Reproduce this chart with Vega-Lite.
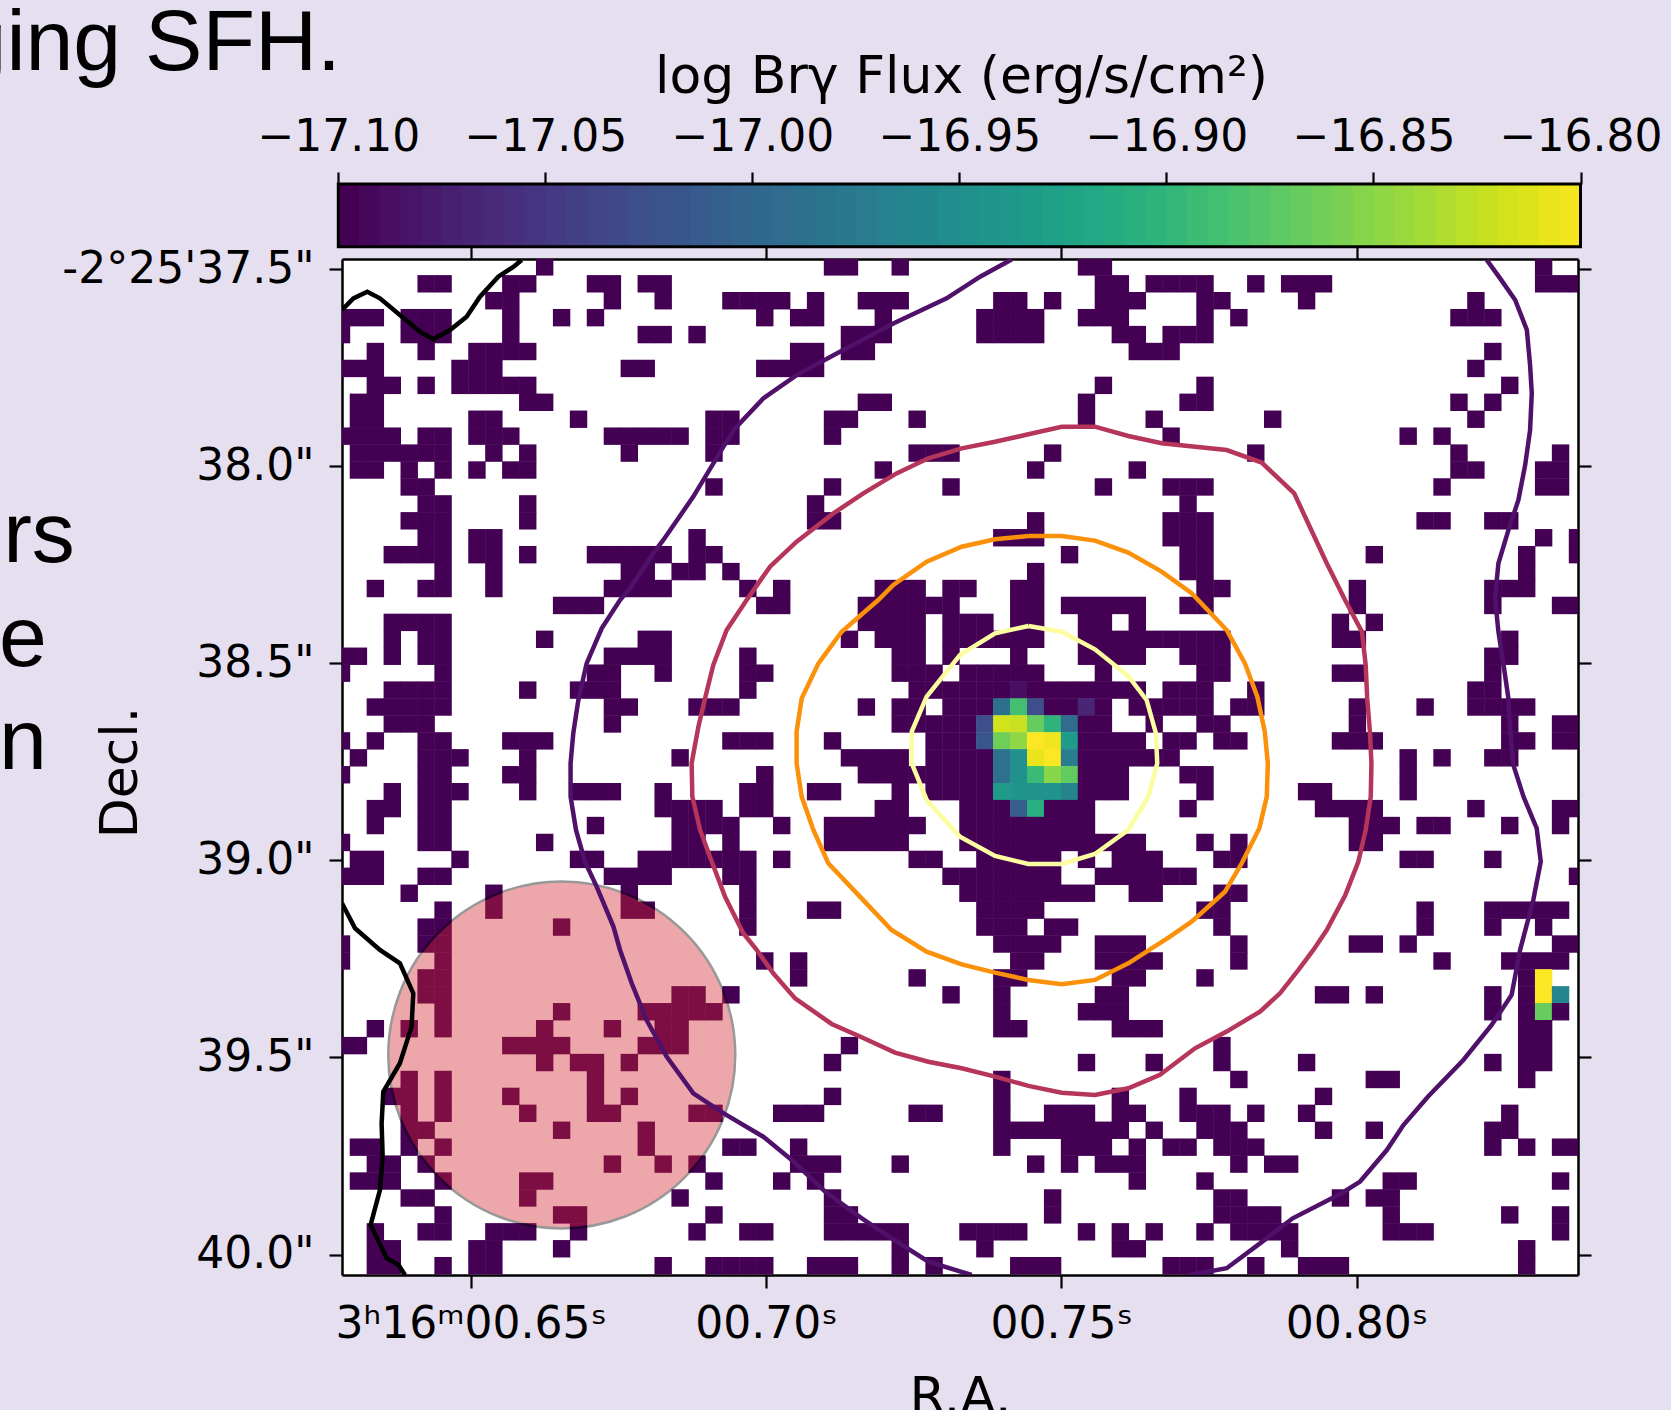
{"$schema":"https://vega.github.io/schema/vega-lite/v6.json","autosize":{"type":"none"},"padding":{"left":342,"top":259,"right":93,"bottom":135},"width":1236,"height":1016,"background":"#e5dfef","config":{"view":{"fill":"white","stroke":null},"axis":{"grid":false,"zindex":1,"labelFont":"DejaVu Sans","titleFont":"DejaVu Sans","labelFontSize":44,"titleFontSize":52,"titleFontWeight":"normal","labelColor":"black","titleColor":"black","tickColor":"black","domainColor":"black","tickWidth":2.2,"domainWidth":2.5,"tickSize":13,"labelFlush":false,"labelOverlap":false,"labelBound":false,"labelLimit":800,"titleLimit":1200}},"resolve":{"scale":{"x":"independent","y":"independent"},"axis":{"x":"independent","y":"independent"}},"layer":[
{"data":{"values":[{"a":-17.1,"b":-17.0945},{"a":-17.095,"b":-17.0895},{"a":-17.09,"b":-17.0845},{"a":-17.085,"b":-17.0795},{"a":-17.08,"b":-17.0745},{"a":-17.075,"b":-17.0695},{"a":-17.07,"b":-17.0645},{"a":-17.065,"b":-17.0595},{"a":-17.06,"b":-17.0545},{"a":-17.055,"b":-17.0495},{"a":-17.05,"b":-17.0445},{"a":-17.045,"b":-17.0395},{"a":-17.04,"b":-17.0345},{"a":-17.035,"b":-17.0295},{"a":-17.03,"b":-17.0245},{"a":-17.025,"b":-17.0195},{"a":-17.02,"b":-17.0145},{"a":-17.015,"b":-17.0095},{"a":-17.01,"b":-17.0045},{"a":-17.005,"b":-16.9995},{"a":-17.0,"b":-16.9945},{"a":-16.995,"b":-16.9895},{"a":-16.99,"b":-16.9845},{"a":-16.985,"b":-16.9795},{"a":-16.98,"b":-16.9745},{"a":-16.975,"b":-16.9695},{"a":-16.97,"b":-16.9645},{"a":-16.965,"b":-16.9595},{"a":-16.96,"b":-16.9545},{"a":-16.955,"b":-16.9495},{"a":-16.95,"b":-16.9445},{"a":-16.945,"b":-16.9395},{"a":-16.94,"b":-16.9345},{"a":-16.935,"b":-16.9295},{"a":-16.93,"b":-16.9245},{"a":-16.925,"b":-16.9195},{"a":-16.92,"b":-16.9145},{"a":-16.915,"b":-16.9095},{"a":-16.91,"b":-16.9045},{"a":-16.905,"b":-16.8995},{"a":-16.9,"b":-16.8945},{"a":-16.895,"b":-16.8895},{"a":-16.89,"b":-16.8845},{"a":-16.885,"b":-16.8795},{"a":-16.88,"b":-16.8745},{"a":-16.875,"b":-16.8695},{"a":-16.87,"b":-16.8645},{"a":-16.865,"b":-16.8595},{"a":-16.86,"b":-16.8545},{"a":-16.855,"b":-16.8495},{"a":-16.85,"b":-16.8445},{"a":-16.845,"b":-16.8395},{"a":-16.84,"b":-16.8345},{"a":-16.835,"b":-16.8295},{"a":-16.83,"b":-16.8245},{"a":-16.825,"b":-16.8195},{"a":-16.82,"b":-16.8145},{"a":-16.815,"b":-16.8095},{"a":-16.81,"b":-16.8045},{"a":-16.805,"b":-16.8}]},"mark":{"type":"rect","clip":false},"encoding":{"x":{"field":"a","type":"quantitative","scale":{"domain":[-17.1,-16.8],"range":[-3.7,1238.5],"nice":false,"zero":false},"axis":{"orient":"top","offset":75,"values":[-17.1,-17.05,-17.0,-16.95,-16.9,-16.85,-16.8],"domain":false,"tickSize":12,"labelPadding":22,"labelBaseline":"alphabetic","labelExpr":"'−'+format(abs(datum.value),'.2f')","title":"log Brγ Flux (erg/s/cm²)","titleY":-92,"titleBaseline":"alphabetic","titleX":619,"titleAlign":"center"}},"x2":{"field":"b"},"y":{"datum":-4.895,"type":"quantitative","scale":{"domain":[59.55,-0.465],"nice":false,"zero":false},"axis":null},"y2":{"datum":-1.19},"color":{"field":"a","type":"quantitative","scale":{"scheme":"viridis","domain":[-17.1,-16.8]},"legend":null}}},
{"data":{"values":[{}]},"mark":{"type":"rect","fill":null,"stroke":"black","strokeWidth":3,"clip":false},"encoding":{"x":{"datum":-17.1,"type":"quantitative","scale":{"domain":[-17.1,-16.8],"range":[-3.7,1238.5],"nice":false,"zero":false},"axis":null},"x2":{"datum":-16.8},"y":{"datum":-4.895,"type":"quantitative","scale":{"domain":[59.55,-0.465],"nice":false,"zero":false},"axis":null},"y2":{"datum":-1.19}}},
{"data":{"values":[
{"c":12,"r":0,"v":-17.1},{"c":29,"r":0,"v":-17.1},{"c":30,"r":0,"v":-17.1},{"c":33,"r":0,"v":-17.1},{"c":44,"r":0,"v":-17.1},{"c":45,"r":0,"v":-17.1},{"c":71,"r":0,"v":-17.1},
{"c":5,"r":1,"v":-17.1},{"c":6,"r":1,"v":-17.1},{"c":10,"r":1,"v":-17.1},{"c":11,"r":1,"v":-17.1},{"c":15,"r":1,"v":-17.1},{"c":16,"r":1,"v":-17.1},{"c":18,"r":1,"v":-17.1},{"c":19,"r":1,"v":-17.1},{"c":45,"r":1,"v":-17.1},{"c":46,"r":1,"v":-17.1},{"c":48,"r":1,"v":-17.1},{"c":49,"r":1,"v":-17.1},{"c":50,"r":1,"v":-17.1},{"c":51,"r":1,"v":-17.1},{"c":54,"r":1,"v":-17.1},{"c":56,"r":1,"v":-17.1},{"c":57,"r":1,"v":-17.1},{"c":58,"r":1,"v":-17.1},{"c":71,"r":1,"v":-17.1},{"c":72,"r":1,"v":-17.1},{"c":73,"r":1,"v":-17.1},
{"c":9,"r":2,"v":-17.1},{"c":10,"r":2,"v":-17.1},{"c":16,"r":2,"v":-17.1},{"c":19,"r":2,"v":-17.1},{"c":23,"r":2,"v":-17.1},{"c":24,"r":2,"v":-17.1},{"c":25,"r":2,"v":-17.1},{"c":26,"r":2,"v":-17.1},{"c":28,"r":2,"v":-17.1},{"c":31,"r":2,"v":-17.1},{"c":32,"r":2,"v":-17.1},{"c":33,"r":2,"v":-17.1},{"c":39,"r":2,"v":-17.1},{"c":40,"r":2,"v":-17.1},{"c":42,"r":2,"v":-17.1},{"c":45,"r":2,"v":-17.1},{"c":46,"r":2,"v":-17.1},{"c":47,"r":2,"v":-17.1},{"c":51,"r":2,"v":-17.1},{"c":52,"r":2,"v":-17.1},{"c":57,"r":2,"v":-17.1},{"c":67,"r":2,"v":-17.1},
{"c":0,"r":3,"v":-17.1},{"c":1,"r":3,"v":-17.1},{"c":2,"r":3,"v":-17.1},{"c":4,"r":3,"v":-17.1},{"c":5,"r":3,"v":-17.1},{"c":6,"r":3,"v":-17.1},{"c":10,"r":3,"v":-17.1},{"c":13,"r":3,"v":-17.1},{"c":15,"r":3,"v":-17.1},{"c":25,"r":3,"v":-17.1},{"c":27,"r":3,"v":-17.1},{"c":28,"r":3,"v":-17.1},{"c":32,"r":3,"v":-17.1},{"c":38,"r":3,"v":-17.1},{"c":39,"r":3,"v":-17.1},{"c":40,"r":3,"v":-17.1},{"c":41,"r":3,"v":-17.1},{"c":44,"r":3,"v":-17.1},{"c":45,"r":3,"v":-17.1},{"c":46,"r":3,"v":-17.1},{"c":51,"r":3,"v":-17.1},{"c":53,"r":3,"v":-17.1},{"c":66,"r":3,"v":-17.1},{"c":67,"r":3,"v":-17.1},{"c":68,"r":3,"v":-17.1},
{"c":0,"r":4,"v":-17.1},{"c":4,"r":4,"v":-17.1},{"c":5,"r":4,"v":-17.1},{"c":6,"r":4,"v":-17.1},{"c":10,"r":4,"v":-17.1},{"c":18,"r":4,"v":-17.1},{"c":19,"r":4,"v":-17.1},{"c":21,"r":4,"v":-17.1},{"c":30,"r":4,"v":-17.1},{"c":31,"r":4,"v":-17.1},{"c":32,"r":4,"v":-17.1},{"c":38,"r":4,"v":-17.1},{"c":39,"r":4,"v":-17.1},{"c":40,"r":4,"v":-17.1},{"c":41,"r":4,"v":-17.1},{"c":46,"r":4,"v":-17.1},{"c":47,"r":4,"v":-17.1},{"c":49,"r":4,"v":-17.1},{"c":50,"r":4,"v":-17.1},{"c":51,"r":4,"v":-17.1},
{"c":2,"r":5,"v":-17.1},{"c":5,"r":5,"v":-17.1},{"c":8,"r":5,"v":-17.1},{"c":9,"r":5,"v":-17.1},{"c":10,"r":5,"v":-17.1},{"c":11,"r":5,"v":-17.1},{"c":27,"r":5,"v":-17.1},{"c":28,"r":5,"v":-17.1},{"c":30,"r":5,"v":-17.1},{"c":31,"r":5,"v":-17.1},{"c":47,"r":5,"v":-17.1},{"c":48,"r":5,"v":-17.1},{"c":49,"r":5,"v":-17.1},{"c":68,"r":5,"v":-17.1},
{"c":0,"r":6,"v":-17.1},{"c":1,"r":6,"v":-17.1},{"c":2,"r":6,"v":-17.1},{"c":7,"r":6,"v":-17.1},{"c":8,"r":6,"v":-17.1},{"c":9,"r":6,"v":-17.1},{"c":17,"r":6,"v":-17.1},{"c":18,"r":6,"v":-17.1},{"c":25,"r":6,"v":-17.1},{"c":26,"r":6,"v":-17.1},{"c":27,"r":6,"v":-17.1},{"c":28,"r":6,"v":-17.1},{"c":67,"r":6,"v":-17.1},
{"c":2,"r":7,"v":-17.1},{"c":3,"r":7,"v":-17.1},{"c":5,"r":7,"v":-17.1},{"c":7,"r":7,"v":-17.1},{"c":8,"r":7,"v":-17.1},{"c":9,"r":7,"v":-17.1},{"c":10,"r":7,"v":-17.1},{"c":11,"r":7,"v":-17.1},{"c":45,"r":7,"v":-17.1},{"c":51,"r":7,"v":-17.1},{"c":69,"r":7,"v":-17.1},
{"c":1,"r":8,"v":-17.1},{"c":2,"r":8,"v":-17.1},{"c":11,"r":8,"v":-17.1},{"c":12,"r":8,"v":-17.1},{"c":31,"r":8,"v":-17.1},{"c":32,"r":8,"v":-17.1},{"c":44,"r":8,"v":-17.1},{"c":50,"r":8,"v":-17.1},{"c":51,"r":8,"v":-17.1},{"c":66,"r":8,"v":-17.1},{"c":68,"r":8,"v":-17.1},
{"c":1,"r":9,"v":-17.1},{"c":2,"r":9,"v":-17.1},{"c":8,"r":9,"v":-17.1},{"c":9,"r":9,"v":-17.1},{"c":14,"r":9,"v":-17.1},{"c":22,"r":9,"v":-17.1},{"c":23,"r":9,"v":-17.1},{"c":29,"r":9,"v":-17.1},{"c":30,"r":9,"v":-17.1},{"c":34,"r":9,"v":-17.1},{"c":44,"r":9,"v":-17.1},{"c":48,"r":9,"v":-17.1},{"c":55,"r":9,"v":-17.1},{"c":67,"r":9,"v":-17.1},
{"c":0,"r":10,"v":-17.1},{"c":1,"r":10,"v":-17.1},{"c":2,"r":10,"v":-17.1},{"c":3,"r":10,"v":-17.1},{"c":5,"r":10,"v":-17.1},{"c":6,"r":10,"v":-17.1},{"c":8,"r":10,"v":-17.1},{"c":9,"r":10,"v":-17.1},{"c":10,"r":10,"v":-17.1},{"c":16,"r":10,"v":-17.1},{"c":17,"r":10,"v":-17.1},{"c":18,"r":10,"v":-17.1},{"c":19,"r":10,"v":-17.1},{"c":20,"r":10,"v":-17.1},{"c":22,"r":10,"v":-17.1},{"c":23,"r":10,"v":-17.1},{"c":29,"r":10,"v":-17.1},{"c":49,"r":10,"v":-17.1},{"c":63,"r":10,"v":-17.1},{"c":65,"r":10,"v":-17.1},
{"c":1,"r":11,"v":-17.1},{"c":2,"r":11,"v":-17.1},{"c":3,"r":11,"v":-17.1},{"c":4,"r":11,"v":-17.1},{"c":5,"r":11,"v":-17.1},{"c":6,"r":11,"v":-17.1},{"c":9,"r":11,"v":-17.1},{"c":11,"r":11,"v":-17.1},{"c":17,"r":11,"v":-17.1},{"c":22,"r":11,"v":-17.1},{"c":34,"r":11,"v":-17.1},{"c":35,"r":11,"v":-17.1},{"c":36,"r":11,"v":-17.1},{"c":42,"r":11,"v":-17.1},{"c":54,"r":11,"v":-17.1},{"c":66,"r":11,"v":-17.1},{"c":72,"r":11,"v":-17.1},
{"c":1,"r":12,"v":-17.1},{"c":2,"r":12,"v":-17.1},{"c":4,"r":12,"v":-17.1},{"c":6,"r":12,"v":-17.1},{"c":8,"r":12,"v":-17.1},{"c":10,"r":12,"v":-17.1},{"c":11,"r":12,"v":-17.1},{"c":32,"r":12,"v":-17.1},{"c":41,"r":12,"v":-17.1},{"c":47,"r":12,"v":-17.1},{"c":66,"r":12,"v":-17.1},{"c":67,"r":12,"v":-17.1},{"c":71,"r":12,"v":-17.1},{"c":72,"r":12,"v":-17.1},
{"c":4,"r":13,"v":-17.1},{"c":5,"r":13,"v":-17.1},{"c":22,"r":13,"v":-17.1},{"c":29,"r":13,"v":-17.1},{"c":36,"r":13,"v":-17.1},{"c":45,"r":13,"v":-17.1},{"c":49,"r":13,"v":-17.1},{"c":50,"r":13,"v":-17.1},{"c":51,"r":13,"v":-17.1},{"c":65,"r":13,"v":-17.1},{"c":71,"r":13,"v":-17.1},{"c":72,"r":13,"v":-17.1},
{"c":5,"r":14,"v":-17.1},{"c":6,"r":14,"v":-17.1},{"c":11,"r":14,"v":-17.1},{"c":28,"r":14,"v":-17.1},{"c":50,"r":14,"v":-17.1},
{"c":4,"r":15,"v":-17.1},{"c":5,"r":15,"v":-17.1},{"c":6,"r":15,"v":-17.1},{"c":11,"r":15,"v":-17.1},{"c":28,"r":15,"v":-17.1},{"c":29,"r":15,"v":-17.1},{"c":41,"r":15,"v":-17.1},{"c":49,"r":15,"v":-17.1},{"c":50,"r":15,"v":-17.1},{"c":51,"r":15,"v":-17.1},{"c":64,"r":15,"v":-17.1},{"c":65,"r":15,"v":-17.1},{"c":68,"r":15,"v":-17.1},{"c":69,"r":15,"v":-17.1},
{"c":5,"r":16,"v":-17.1},{"c":6,"r":16,"v":-17.1},{"c":8,"r":16,"v":-17.1},{"c":9,"r":16,"v":-17.1},{"c":21,"r":16,"v":-17.1},{"c":39,"r":16,"v":-17.1},{"c":40,"r":16,"v":-17.1},{"c":41,"r":16,"v":-17.1},{"c":49,"r":16,"v":-17.1},{"c":50,"r":16,"v":-17.1},{"c":51,"r":16,"v":-17.1},{"c":71,"r":16,"v":-17.1},{"c":73,"r":16,"v":-17.1},
{"c":3,"r":17,"v":-17.1},{"c":4,"r":17,"v":-17.1},{"c":5,"r":17,"v":-17.1},{"c":6,"r":17,"v":-17.1},{"c":8,"r":17,"v":-17.1},{"c":9,"r":17,"v":-17.1},{"c":11,"r":17,"v":-17.1},{"c":15,"r":17,"v":-17.1},{"c":16,"r":17,"v":-17.1},{"c":17,"r":17,"v":-17.1},{"c":18,"r":17,"v":-17.1},{"c":19,"r":17,"v":-17.1},{"c":21,"r":17,"v":-17.1},{"c":22,"r":17,"v":-17.1},{"c":43,"r":17,"v":-17.1},{"c":50,"r":17,"v":-17.1},{"c":51,"r":17,"v":-17.1},{"c":61,"r":17,"v":-17.1},{"c":70,"r":17,"v":-17.1},{"c":73,"r":17,"v":-17.1},
{"c":6,"r":18,"v":-17.1},{"c":9,"r":18,"v":-17.1},{"c":17,"r":18,"v":-17.1},{"c":18,"r":18,"v":-17.1},{"c":20,"r":18,"v":-17.1},{"c":21,"r":18,"v":-17.1},{"c":23,"r":18,"v":-17.1},{"c":41,"r":18,"v":-17.1},{"c":50,"r":18,"v":-17.1},{"c":51,"r":18,"v":-17.1},{"c":70,"r":18,"v":-17.1},
{"c":2,"r":19,"v":-17.1},{"c":5,"r":19,"v":-17.1},{"c":6,"r":19,"v":-17.1},{"c":9,"r":19,"v":-17.1},{"c":16,"r":19,"v":-17.1},{"c":17,"r":19,"v":-17.1},{"c":18,"r":19,"v":-17.1},{"c":19,"r":19,"v":-17.1},{"c":24,"r":19,"v":-17.1},{"c":26,"r":19,"v":-17.1},{"c":32,"r":19,"v":-17.1},{"c":33,"r":19,"v":-17.1},{"c":34,"r":19,"v":-17.1},{"c":36,"r":19,"v":-17.1},{"c":37,"r":19,"v":-17.1},{"c":40,"r":19,"v":-17.1},{"c":41,"r":19,"v":-17.1},{"c":51,"r":19,"v":-17.1},{"c":52,"r":19,"v":-17.1},{"c":60,"r":19,"v":-17.1},{"c":68,"r":19,"v":-17.1},{"c":69,"r":19,"v":-17.1},{"c":70,"r":19,"v":-17.1},
{"c":13,"r":20,"v":-17.1},{"c":14,"r":20,"v":-17.1},{"c":15,"r":20,"v":-17.1},{"c":25,"r":20,"v":-17.1},{"c":26,"r":20,"v":-17.1},{"c":31,"r":20,"v":-17.1},{"c":32,"r":20,"v":-17.1},{"c":33,"r":20,"v":-17.1},{"c":34,"r":20,"v":-17.1},{"c":35,"r":20,"v":-17.1},{"c":36,"r":20,"v":-17.1},{"c":40,"r":20,"v":-17.1},{"c":41,"r":20,"v":-17.1},{"c":43,"r":20,"v":-17.1},{"c":44,"r":20,"v":-17.1},{"c":45,"r":20,"v":-17.1},{"c":46,"r":20,"v":-17.1},{"c":47,"r":20,"v":-17.1},{"c":50,"r":20,"v":-17.1},{"c":51,"r":20,"v":-17.1},{"c":60,"r":20,"v":-17.1},{"c":68,"r":20,"v":-17.1},{"c":72,"r":20,"v":-17.1},{"c":73,"r":20,"v":-17.1},
{"c":3,"r":21,"v":-17.1},{"c":4,"r":21,"v":-17.1},{"c":5,"r":21,"v":-17.1},{"c":6,"r":21,"v":-17.1},{"c":31,"r":21,"v":-17.1},{"c":32,"r":21,"v":-17.1},{"c":33,"r":21,"v":-17.1},{"c":34,"r":21,"v":-17.1},{"c":36,"r":21,"v":-17.1},{"c":37,"r":21,"v":-17.1},{"c":38,"r":21,"v":-17.1},{"c":40,"r":21,"v":-17.1},{"c":41,"r":21,"v":-17.1},{"c":44,"r":21,"v":-17.1},{"c":45,"r":21,"v":-17.1},{"c":47,"r":21,"v":-17.1},{"c":59,"r":21,"v":-17.1},{"c":61,"r":21,"v":-17.1},
{"c":3,"r":22,"v":-17.1},{"c":5,"r":22,"v":-17.1},{"c":6,"r":22,"v":-17.1},{"c":12,"r":22,"v":-17.1},{"c":18,"r":22,"v":-17.1},{"c":19,"r":22,"v":-17.1},{"c":30,"r":22,"v":-17.1},{"c":32,"r":22,"v":-17.1},{"c":33,"r":22,"v":-17.1},{"c":34,"r":22,"v":-17.1},{"c":36,"r":22,"v":-17.1},{"c":37,"r":22,"v":-17.1},{"c":38,"r":22,"v":-17.1},{"c":39,"r":22,"v":-17.1},{"c":40,"r":22,"v":-17.1},{"c":41,"r":22,"v":-17.1},{"c":44,"r":22,"v":-17.1},{"c":45,"r":22,"v":-17.1},{"c":46,"r":22,"v":-17.1},{"c":47,"r":22,"v":-17.1},{"c":48,"r":22,"v":-17.1},{"c":49,"r":22,"v":-17.1},{"c":50,"r":22,"v":-17.1},{"c":51,"r":22,"v":-17.1},{"c":52,"r":22,"v":-17.1},{"c":59,"r":22,"v":-17.1},{"c":60,"r":22,"v":-17.1},{"c":69,"r":22,"v":-17.1},
{"c":0,"r":23,"v":-17.1},{"c":1,"r":23,"v":-17.1},{"c":3,"r":23,"v":-17.1},{"c":5,"r":23,"v":-17.1},{"c":6,"r":23,"v":-17.1},{"c":16,"r":23,"v":-17.1},{"c":17,"r":23,"v":-17.1},{"c":18,"r":23,"v":-17.1},{"c":19,"r":23,"v":-17.1},{"c":24,"r":23,"v":-17.1},{"c":33,"r":23,"v":-17.1},{"c":34,"r":23,"v":-17.1},{"c":36,"r":23,"v":-17.1},{"c":40,"r":23,"v":-17.1},{"c":44,"r":23,"v":-17.1},{"c":45,"r":23,"v":-17.1},{"c":46,"r":23,"v":-17.1},{"c":47,"r":23,"v":-17.1},{"c":50,"r":23,"v":-17.1},{"c":51,"r":23,"v":-17.1},{"c":52,"r":23,"v":-17.1},{"c":68,"r":23,"v":-17.1},{"c":69,"r":23,"v":-17.1},
{"c":0,"r":24,"v":-17.1},{"c":6,"r":24,"v":-17.1},{"c":15,"r":24,"v":-17.1},{"c":16,"r":24,"v":-17.1},{"c":19,"r":24,"v":-17.1},{"c":24,"r":24,"v":-17.1},{"c":25,"r":24,"v":-17.1},{"c":33,"r":24,"v":-17.1},{"c":34,"r":24,"v":-17.1},{"c":35,"r":24,"v":-17.1},{"c":37,"r":24,"v":-17.1},{"c":38,"r":24,"v":-17.1},{"c":39,"r":24,"v":-17.1},{"c":40,"r":24,"v":-17.1},{"c":41,"r":24,"v":-17.1},{"c":45,"r":24,"v":-17.1},{"c":51,"r":24,"v":-17.1},{"c":52,"r":24,"v":-17.1},{"c":59,"r":24,"v":-17.1},{"c":60,"r":24,"v":-17.1},{"c":68,"r":24,"v":-17.1},
{"c":3,"r":25,"v":-17.1},{"c":4,"r":25,"v":-17.1},{"c":5,"r":25,"v":-17.1},{"c":6,"r":25,"v":-17.1},{"c":11,"r":25,"v":-17.1},{"c":14,"r":25,"v":-17.1},{"c":15,"r":25,"v":-17.1},{"c":16,"r":25,"v":-17.1},{"c":24,"r":25,"v":-17.1},{"c":34,"r":25,"v":-17.1},{"c":35,"r":25,"v":-17.1},{"c":36,"r":25,"v":-17.1},{"c":37,"r":25,"v":-17.1},{"c":38,"r":25,"v":-17.1},{"c":39,"r":25,"v":-17.1},{"c":40,"r":25,"v":-17.09},{"c":41,"r":25,"v":-17.1},{"c":42,"r":25,"v":-17.1},{"c":43,"r":25,"v":-17.1},{"c":44,"r":25,"v":-17.1},{"c":45,"r":25,"v":-17.1},{"c":46,"r":25,"v":-17.1},{"c":47,"r":25,"v":-17.1},{"c":49,"r":25,"v":-17.1},{"c":50,"r":25,"v":-17.1},{"c":51,"r":25,"v":-17.1},{"c":54,"r":25,"v":-17.1},{"c":67,"r":25,"v":-17.1},{"c":68,"r":25,"v":-17.1},
{"c":2,"r":26,"v":-17.1},{"c":3,"r":26,"v":-17.1},{"c":4,"r":26,"v":-17.1},{"c":5,"r":26,"v":-17.1},{"c":6,"r":26,"v":-17.1},{"c":16,"r":26,"v":-17.1},{"c":17,"r":26,"v":-17.1},{"c":21,"r":26,"v":-17.1},{"c":22,"r":26,"v":-17.1},{"c":23,"r":26,"v":-17.1},{"c":31,"r":26,"v":-17.1},{"c":33,"r":26,"v":-17.1},{"c":34,"r":26,"v":-17.1},{"c":36,"r":26,"v":-17.1},{"c":37,"r":26,"v":-17.1},{"c":38,"r":26,"v":-17.1},{"c":39,"r":26,"v":-16.99},{"c":40,"r":26,"v":-16.89},{"c":41,"r":26,"v":-17.03},{"c":42,"r":26,"v":-17.1},{"c":43,"r":26,"v":-17.1},{"c":44,"r":26,"v":-17.07},{"c":45,"r":26,"v":-17.1},{"c":47,"r":26,"v":-17.1},{"c":48,"r":26,"v":-17.1},{"c":49,"r":26,"v":-17.1},{"c":50,"r":26,"v":-17.1},{"c":51,"r":26,"v":-17.1},{"c":53,"r":26,"v":-17.1},{"c":54,"r":26,"v":-17.1},{"c":60,"r":26,"v":-17.1},{"c":64,"r":26,"v":-17.1},{"c":67,"r":26,"v":-17.1},{"c":68,"r":26,"v":-17.1},{"c":69,"r":26,"v":-17.1},{"c":70,"r":26,"v":-17.1},
{"c":3,"r":27,"v":-17.1},{"c":4,"r":27,"v":-17.1},{"c":5,"r":27,"v":-17.1},{"c":16,"r":27,"v":-17.1},{"c":33,"r":27,"v":-17.1},{"c":34,"r":27,"v":-17.1},{"c":35,"r":27,"v":-17.1},{"c":36,"r":27,"v":-17.1},{"c":37,"r":27,"v":-17.1},{"c":38,"r":27,"v":-17.03},{"c":39,"r":27,"v":-16.82},{"c":40,"r":27,"v":-16.824},{"c":41,"r":27,"v":-16.87},{"c":42,"r":27,"v":-16.905},{"c":43,"r":27,"v":-16.995},{"c":44,"r":27,"v":-17.1},{"c":45,"r":27,"v":-17.1},{"c":48,"r":27,"v":-17.1},{"c":51,"r":27,"v":-17.1},{"c":52,"r":27,"v":-17.1},{"c":60,"r":27,"v":-17.1},{"c":69,"r":27,"v":-17.1},{"c":72,"r":27,"v":-17.1},{"c":73,"r":27,"v":-17.1},
{"c":0,"r":28,"v":-17.1},{"c":2,"r":28,"v":-17.1},{"c":5,"r":28,"v":-17.1},{"c":6,"r":28,"v":-17.1},{"c":10,"r":28,"v":-17.1},{"c":11,"r":28,"v":-17.1},{"c":12,"r":28,"v":-17.1},{"c":23,"r":28,"v":-17.1},{"c":24,"r":28,"v":-17.1},{"c":25,"r":28,"v":-17.1},{"c":29,"r":28,"v":-17.1},{"c":35,"r":28,"v":-17.1},{"c":36,"r":28,"v":-17.1},{"c":37,"r":28,"v":-17.1},{"c":38,"r":28,"v":-17.02},{"c":39,"r":28,"v":-16.866},{"c":40,"r":28,"v":-16.85},{"c":41,"r":28,"v":-16.8},{"c":42,"r":28,"v":-16.806},{"c":43,"r":28,"v":-16.935},{"c":44,"r":28,"v":-17.1},{"c":45,"r":28,"v":-17.1},{"c":46,"r":28,"v":-17.1},{"c":47,"r":28,"v":-17.1},{"c":49,"r":28,"v":-17.1},{"c":50,"r":28,"v":-17.1},{"c":52,"r":28,"v":-17.1},{"c":53,"r":28,"v":-17.1},{"c":59,"r":28,"v":-17.1},{"c":60,"r":28,"v":-17.1},{"c":61,"r":28,"v":-17.1},{"c":69,"r":28,"v":-17.1},{"c":70,"r":28,"v":-17.1},{"c":72,"r":28,"v":-17.1},{"c":73,"r":28,"v":-17.1},
{"c":1,"r":29,"v":-17.1},{"c":5,"r":29,"v":-17.1},{"c":6,"r":29,"v":-17.1},{"c":7,"r":29,"v":-17.1},{"c":11,"r":29,"v":-17.1},{"c":20,"r":29,"v":-17.1},{"c":30,"r":29,"v":-17.1},{"c":31,"r":29,"v":-17.1},{"c":32,"r":29,"v":-17.1},{"c":33,"r":29,"v":-17.1},{"c":35,"r":29,"v":-17.1},{"c":36,"r":29,"v":-17.1},{"c":37,"r":29,"v":-17.1},{"c":38,"r":29,"v":-17.1},{"c":39,"r":29,"v":-16.989},{"c":40,"r":29,"v":-16.95},{"c":41,"r":29,"v":-16.81},{"c":42,"r":29,"v":-16.8},{"c":43,"r":29,"v":-16.974},{"c":44,"r":29,"v":-17.1},{"c":45,"r":29,"v":-17.1},{"c":46,"r":29,"v":-17.1},{"c":47,"r":29,"v":-17.1},{"c":48,"r":29,"v":-17.1},{"c":49,"r":29,"v":-17.1},{"c":63,"r":29,"v":-17.1},{"c":65,"r":29,"v":-17.1},{"c":68,"r":29,"v":-17.1},{"c":69,"r":29,"v":-17.1},
{"c":0,"r":30,"v":-17.1},{"c":5,"r":30,"v":-17.1},{"c":6,"r":30,"v":-17.1},{"c":10,"r":30,"v":-17.1},{"c":11,"r":30,"v":-17.1},{"c":25,"r":30,"v":-17.1},{"c":31,"r":30,"v":-17.1},{"c":32,"r":30,"v":-17.1},{"c":33,"r":30,"v":-17.1},{"c":34,"r":30,"v":-17.1},{"c":35,"r":30,"v":-17.1},{"c":36,"r":30,"v":-17.1},{"c":37,"r":30,"v":-17.1},{"c":38,"r":30,"v":-17.1},{"c":39,"r":30,"v":-16.989},{"c":40,"r":30,"v":-16.95},{"c":41,"r":30,"v":-16.896},{"c":42,"r":30,"v":-16.854},{"c":43,"r":30,"v":-16.872},{"c":44,"r":30,"v":-17.1},{"c":45,"r":30,"v":-17.1},{"c":46,"r":30,"v":-17.1},{"c":50,"r":30,"v":-17.1},{"c":51,"r":30,"v":-17.1},{"c":63,"r":30,"v":-17.1},
{"c":3,"r":31,"v":-17.1},{"c":5,"r":31,"v":-17.1},{"c":6,"r":31,"v":-17.1},{"c":7,"r":31,"v":-17.1},{"c":11,"r":31,"v":-17.1},{"c":14,"r":31,"v":-17.1},{"c":15,"r":31,"v":-17.1},{"c":16,"r":31,"v":-17.1},{"c":19,"r":31,"v":-17.1},{"c":24,"r":31,"v":-17.1},{"c":25,"r":31,"v":-17.1},{"c":28,"r":31,"v":-17.1},{"c":29,"r":31,"v":-17.1},{"c":33,"r":31,"v":-17.1},{"c":35,"r":31,"v":-17.1},{"c":36,"r":31,"v":-17.1},{"c":37,"r":31,"v":-17.1},{"c":38,"r":31,"v":-17.1},{"c":39,"r":31,"v":-16.935},{"c":40,"r":31,"v":-16.944},{"c":41,"r":31,"v":-16.946},{"c":42,"r":31,"v":-16.946},{"c":43,"r":31,"v":-16.965},{"c":44,"r":31,"v":-17.1},{"c":45,"r":31,"v":-17.1},{"c":46,"r":31,"v":-17.1},{"c":51,"r":31,"v":-17.1},{"c":57,"r":31,"v":-17.1},{"c":58,"r":31,"v":-17.1},{"c":63,"r":31,"v":-17.1},
{"c":2,"r":32,"v":-17.1},{"c":3,"r":32,"v":-17.1},{"c":5,"r":32,"v":-17.1},{"c":6,"r":32,"v":-17.1},{"c":19,"r":32,"v":-17.1},{"c":20,"r":32,"v":-17.1},{"c":21,"r":32,"v":-17.1},{"c":22,"r":32,"v":-17.1},{"c":24,"r":32,"v":-17.1},{"c":25,"r":32,"v":-17.1},{"c":32,"r":32,"v":-17.1},{"c":33,"r":32,"v":-17.1},{"c":37,"r":32,"v":-17.1},{"c":38,"r":32,"v":-17.1},{"c":39,"r":32,"v":-17.1},{"c":40,"r":32,"v":-17.013},{"c":41,"r":32,"v":-16.911},{"c":42,"r":32,"v":-17.1},{"c":43,"r":32,"v":-17.1},{"c":44,"r":32,"v":-17.1},{"c":50,"r":32,"v":-17.1},{"c":58,"r":32,"v":-17.1},{"c":59,"r":32,"v":-17.1},{"c":60,"r":32,"v":-17.1},{"c":61,"r":32,"v":-17.1},{"c":67,"r":32,"v":-17.1},{"c":72,"r":32,"v":-17.1},{"c":73,"r":32,"v":-17.1},
{"c":2,"r":33,"v":-17.1},{"c":5,"r":33,"v":-17.1},{"c":6,"r":33,"v":-17.1},{"c":15,"r":33,"v":-17.1},{"c":20,"r":33,"v":-17.1},{"c":21,"r":33,"v":-17.1},{"c":22,"r":33,"v":-17.1},{"c":23,"r":33,"v":-17.1},{"c":26,"r":33,"v":-17.1},{"c":29,"r":33,"v":-17.1},{"c":30,"r":33,"v":-17.1},{"c":31,"r":33,"v":-17.1},{"c":32,"r":33,"v":-17.1},{"c":33,"r":33,"v":-17.1},{"c":34,"r":33,"v":-17.1},{"c":37,"r":33,"v":-17.1},{"c":38,"r":33,"v":-17.1},{"c":39,"r":33,"v":-17.1},{"c":40,"r":33,"v":-17.1},{"c":41,"r":33,"v":-17.1},{"c":42,"r":33,"v":-17.1},{"c":43,"r":33,"v":-17.1},{"c":44,"r":33,"v":-17.1},{"c":60,"r":33,"v":-17.1},{"c":61,"r":33,"v":-17.1},{"c":62,"r":33,"v":-17.1},{"c":64,"r":33,"v":-17.1},{"c":65,"r":33,"v":-17.1},{"c":69,"r":33,"v":-17.1},{"c":72,"r":33,"v":-17.1},
{"c":0,"r":34,"v":-17.1},{"c":5,"r":34,"v":-17.1},{"c":6,"r":34,"v":-17.1},{"c":12,"r":34,"v":-17.1},{"c":20,"r":34,"v":-17.1},{"c":21,"r":34,"v":-17.1},{"c":23,"r":34,"v":-17.1},{"c":29,"r":34,"v":-17.1},{"c":30,"r":34,"v":-17.1},{"c":31,"r":34,"v":-17.1},{"c":32,"r":34,"v":-17.1},{"c":33,"r":34,"v":-17.1},{"c":37,"r":34,"v":-17.1},{"c":38,"r":34,"v":-17.1},{"c":39,"r":34,"v":-17.1},{"c":40,"r":34,"v":-17.1},{"c":41,"r":34,"v":-17.1},{"c":42,"r":34,"v":-17.1},{"c":43,"r":34,"v":-17.1},{"c":44,"r":34,"v":-17.1},{"c":45,"r":34,"v":-17.1},{"c":46,"r":34,"v":-17.1},{"c":47,"r":34,"v":-17.1},{"c":51,"r":34,"v":-17.1},{"c":53,"r":34,"v":-17.1},{"c":60,"r":34,"v":-17.1},{"c":61,"r":34,"v":-17.1},
{"c":1,"r":35,"v":-17.1},{"c":2,"r":35,"v":-17.1},{"c":7,"r":35,"v":-17.1},{"c":14,"r":35,"v":-17.1},{"c":15,"r":35,"v":-17.1},{"c":18,"r":35,"v":-17.1},{"c":19,"r":35,"v":-17.1},{"c":20,"r":35,"v":-17.1},{"c":21,"r":35,"v":-17.1},{"c":22,"r":35,"v":-17.1},{"c":23,"r":35,"v":-17.1},{"c":24,"r":35,"v":-17.1},{"c":26,"r":35,"v":-17.1},{"c":34,"r":35,"v":-17.1},{"c":35,"r":35,"v":-17.1},{"c":38,"r":35,"v":-17.1},{"c":39,"r":35,"v":-17.1},{"c":40,"r":35,"v":-17.1},{"c":41,"r":35,"v":-17.1},{"c":42,"r":35,"v":-17.1},{"c":44,"r":35,"v":-17.1},{"c":46,"r":35,"v":-17.1},{"c":47,"r":35,"v":-17.1},{"c":48,"r":35,"v":-17.1},{"c":52,"r":35,"v":-17.1},{"c":53,"r":35,"v":-17.1},{"c":63,"r":35,"v":-17.1},{"c":64,"r":35,"v":-17.1},{"c":68,"r":35,"v":-17.1},
{"c":0,"r":36,"v":-17.1},{"c":1,"r":36,"v":-17.1},{"c":2,"r":36,"v":-17.1},{"c":5,"r":36,"v":-17.1},{"c":6,"r":36,"v":-17.1},{"c":16,"r":36,"v":-17.1},{"c":17,"r":36,"v":-17.1},{"c":18,"r":36,"v":-17.1},{"c":19,"r":36,"v":-17.1},{"c":23,"r":36,"v":-17.1},{"c":24,"r":36,"v":-17.1},{"c":36,"r":36,"v":-17.1},{"c":37,"r":36,"v":-17.1},{"c":38,"r":36,"v":-17.1},{"c":39,"r":36,"v":-17.1},{"c":40,"r":36,"v":-17.1},{"c":41,"r":36,"v":-17.1},{"c":42,"r":36,"v":-17.1},{"c":45,"r":36,"v":-17.1},{"c":46,"r":36,"v":-17.1},{"c":47,"r":36,"v":-17.1},{"c":48,"r":36,"v":-17.1},{"c":49,"r":36,"v":-17.1},{"c":50,"r":36,"v":-17.1},{"c":73,"r":36,"v":-17.1},
{"c":4,"r":37,"v":-17.1},{"c":9,"r":37,"v":-17.1},{"c":17,"r":37,"v":-17.1},{"c":24,"r":37,"v":-17.1},{"c":37,"r":37,"v":-17.1},{"c":38,"r":37,"v":-17.1},{"c":39,"r":37,"v":-17.1},{"c":40,"r":37,"v":-17.1},{"c":41,"r":37,"v":-17.1},{"c":42,"r":37,"v":-17.1},{"c":43,"r":37,"v":-17.1},{"c":44,"r":37,"v":-17.1},{"c":47,"r":37,"v":-17.1},{"c":48,"r":37,"v":-17.1},{"c":52,"r":37,"v":-17.1},{"c":53,"r":37,"v":-17.1},
{"c":6,"r":38,"v":-17.1},{"c":9,"r":38,"v":-17.1},{"c":17,"r":38,"v":-17.1},{"c":18,"r":38,"v":-17.1},{"c":24,"r":38,"v":-17.1},{"c":28,"r":38,"v":-17.1},{"c":29,"r":38,"v":-17.1},{"c":38,"r":38,"v":-17.1},{"c":39,"r":38,"v":-17.1},{"c":40,"r":38,"v":-17.1},{"c":41,"r":38,"v":-17.1},{"c":51,"r":38,"v":-17.1},{"c":52,"r":38,"v":-17.1},{"c":64,"r":38,"v":-17.1},{"c":68,"r":38,"v":-17.1},{"c":69,"r":38,"v":-17.1},{"c":70,"r":38,"v":-17.1},{"c":71,"r":38,"v":-17.1},{"c":72,"r":38,"v":-17.1},
{"c":5,"r":39,"v":-17.1},{"c":6,"r":39,"v":-17.1},{"c":13,"r":39,"v":-17.1},{"c":24,"r":39,"v":-17.1},{"c":38,"r":39,"v":-17.1},{"c":39,"r":39,"v":-17.1},{"c":40,"r":39,"v":-17.1},{"c":42,"r":39,"v":-17.1},{"c":43,"r":39,"v":-17.1},{"c":52,"r":39,"v":-17.1},{"c":64,"r":39,"v":-17.1},{"c":68,"r":39,"v":-17.1},{"c":71,"r":39,"v":-17.1},
{"c":0,"r":40,"v":-17.1},{"c":5,"r":40,"v":-17.1},{"c":6,"r":40,"v":-17.1},{"c":39,"r":40,"v":-17.1},{"c":40,"r":40,"v":-17.1},{"c":41,"r":40,"v":-17.1},{"c":42,"r":40,"v":-17.1},{"c":45,"r":40,"v":-17.1},{"c":46,"r":40,"v":-17.1},{"c":47,"r":40,"v":-17.1},{"c":53,"r":40,"v":-17.1},{"c":60,"r":40,"v":-17.1},{"c":61,"r":40,"v":-17.1},{"c":63,"r":40,"v":-17.1},{"c":72,"r":40,"v":-17.1},{"c":73,"r":40,"v":-17.1},
{"c":0,"r":41,"v":-17.1},{"c":6,"r":41,"v":-17.1},{"c":25,"r":41,"v":-17.1},{"c":27,"r":41,"v":-17.1},{"c":40,"r":41,"v":-17.1},{"c":41,"r":41,"v":-17.1},{"c":45,"r":41,"v":-17.1},{"c":46,"r":41,"v":-17.1},{"c":47,"r":41,"v":-17.1},{"c":48,"r":41,"v":-17.1},{"c":53,"r":41,"v":-17.1},{"c":65,"r":41,"v":-17.1},{"c":69,"r":41,"v":-17.1},{"c":70,"r":41,"v":-17.1},{"c":71,"r":41,"v":-17.1},{"c":72,"r":41,"v":-17.1},
{"c":5,"r":42,"v":-17.1},{"c":6,"r":42,"v":-17.1},{"c":27,"r":42,"v":-17.1},{"c":34,"r":42,"v":-17.1},{"c":39,"r":42,"v":-17.1},{"c":40,"r":42,"v":-17.1},{"c":46,"r":42,"v":-17.1},{"c":47,"r":42,"v":-17.1},{"c":51,"r":42,"v":-17.1},{"c":70,"r":42,"v":-17.1},{"c":71,"r":42,"v":-16.8},
{"c":5,"r":43,"v":-17.1},{"c":6,"r":43,"v":-17.1},{"c":20,"r":43,"v":-17.1},{"c":21,"r":43,"v":-17.1},{"c":23,"r":43,"v":-17.1},{"c":36,"r":43,"v":-17.1},{"c":39,"r":43,"v":-17.1},{"c":45,"r":43,"v":-17.1},{"c":46,"r":43,"v":-17.1},{"c":58,"r":43,"v":-17.1},{"c":59,"r":43,"v":-17.1},{"c":61,"r":43,"v":-17.1},{"c":68,"r":43,"v":-17.1},{"c":70,"r":43,"v":-17.1},{"c":71,"r":43,"v":-16.8},{"c":72,"r":43,"v":-16.965},
{"c":6,"r":44,"v":-17.1},{"c":13,"r":44,"v":-17.1},{"c":18,"r":44,"v":-17.1},{"c":19,"r":44,"v":-17.1},{"c":20,"r":44,"v":-17.1},{"c":21,"r":44,"v":-17.1},{"c":22,"r":44,"v":-17.1},{"c":39,"r":44,"v":-17.1},{"c":44,"r":44,"v":-17.1},{"c":45,"r":44,"v":-17.1},{"c":46,"r":44,"v":-17.1},{"c":68,"r":44,"v":-17.1},{"c":70,"r":44,"v":-17.1},{"c":71,"r":44,"v":-16.87},{"c":72,"r":44,"v":-17.1},
{"c":2,"r":45,"v":-17.1},{"c":4,"r":45,"v":-17.1},{"c":6,"r":45,"v":-17.1},{"c":12,"r":45,"v":-17.1},{"c":16,"r":45,"v":-17.1},{"c":19,"r":45,"v":-17.1},{"c":20,"r":45,"v":-17.1},{"c":39,"r":45,"v":-17.1},{"c":40,"r":45,"v":-17.1},{"c":46,"r":45,"v":-17.1},{"c":47,"r":45,"v":-17.1},{"c":48,"r":45,"v":-17.1},{"c":70,"r":45,"v":-17.1},{"c":71,"r":45,"v":-17.1},
{"c":0,"r":46,"v":-17.1},{"c":1,"r":46,"v":-17.1},{"c":10,"r":46,"v":-17.1},{"c":11,"r":46,"v":-17.1},{"c":12,"r":46,"v":-17.1},{"c":13,"r":46,"v":-17.1},{"c":18,"r":46,"v":-17.1},{"c":19,"r":46,"v":-17.1},{"c":20,"r":46,"v":-17.1},{"c":30,"r":46,"v":-17.1},{"c":52,"r":46,"v":-17.1},{"c":70,"r":46,"v":-17.1},{"c":71,"r":46,"v":-17.1},
{"c":12,"r":47,"v":-17.1},{"c":14,"r":47,"v":-17.1},{"c":15,"r":47,"v":-17.1},{"c":17,"r":47,"v":-17.1},{"c":29,"r":47,"v":-17.1},{"c":44,"r":47,"v":-17.1},{"c":48,"r":47,"v":-17.1},{"c":52,"r":47,"v":-17.1},{"c":57,"r":47,"v":-17.1},{"c":68,"r":47,"v":-17.1},{"c":70,"r":47,"v":-17.1},{"c":71,"r":47,"v":-17.1},
{"c":4,"r":48,"v":-17.1},{"c":6,"r":48,"v":-17.1},{"c":15,"r":48,"v":-17.1},{"c":39,"r":48,"v":-17.1},{"c":53,"r":48,"v":-17.1},{"c":61,"r":48,"v":-17.1},{"c":62,"r":48,"v":-17.1},{"c":70,"r":48,"v":-17.1},
{"c":3,"r":49,"v":-17.1},{"c":4,"r":49,"v":-17.1},{"c":6,"r":49,"v":-17.1},{"c":10,"r":49,"v":-17.1},{"c":15,"r":49,"v":-17.1},{"c":17,"r":49,"v":-17.1},{"c":29,"r":49,"v":-17.1},{"c":39,"r":49,"v":-17.1},{"c":46,"r":49,"v":-17.1},{"c":50,"r":49,"v":-17.1},{"c":58,"r":49,"v":-17.1},
{"c":4,"r":50,"v":-17.1},{"c":6,"r":50,"v":-17.1},{"c":11,"r":50,"v":-17.1},{"c":15,"r":50,"v":-17.1},{"c":16,"r":50,"v":-17.1},{"c":21,"r":50,"v":-17.1},{"c":22,"r":50,"v":-17.1},{"c":26,"r":50,"v":-17.1},{"c":27,"r":50,"v":-17.1},{"c":28,"r":50,"v":-17.1},{"c":34,"r":50,"v":-17.1},{"c":35,"r":50,"v":-17.1},{"c":39,"r":50,"v":-17.1},{"c":42,"r":50,"v":-17.1},{"c":43,"r":50,"v":-17.1},{"c":44,"r":50,"v":-17.1},{"c":46,"r":50,"v":-17.1},{"c":47,"r":50,"v":-17.1},{"c":50,"r":50,"v":-17.1},{"c":51,"r":50,"v":-17.1},{"c":52,"r":50,"v":-17.1},{"c":54,"r":50,"v":-17.1},{"c":57,"r":50,"v":-17.1},{"c":69,"r":50,"v":-17.1},
{"c":4,"r":51,"v":-17.1},{"c":5,"r":51,"v":-17.1},{"c":13,"r":51,"v":-17.1},{"c":18,"r":51,"v":-17.1},{"c":39,"r":51,"v":-17.1},{"c":40,"r":51,"v":-17.1},{"c":41,"r":51,"v":-17.1},{"c":42,"r":51,"v":-17.1},{"c":43,"r":51,"v":-17.1},{"c":44,"r":51,"v":-17.1},{"c":45,"r":51,"v":-17.1},{"c":46,"r":51,"v":-17.1},{"c":48,"r":51,"v":-17.1},{"c":51,"r":51,"v":-17.1},{"c":52,"r":51,"v":-17.1},{"c":53,"r":51,"v":-17.1},{"c":58,"r":51,"v":-17.1},{"c":61,"r":51,"v":-17.1},{"c":68,"r":51,"v":-17.1},{"c":69,"r":51,"v":-17.1},
{"c":1,"r":52,"v":-17.1},{"c":2,"r":52,"v":-17.1},{"c":4,"r":52,"v":-17.1},{"c":6,"r":52,"v":-17.1},{"c":18,"r":52,"v":-17.1},{"c":23,"r":52,"v":-17.1},{"c":24,"r":52,"v":-17.1},{"c":27,"r":52,"v":-17.1},{"c":39,"r":52,"v":-17.1},{"c":43,"r":52,"v":-17.1},{"c":44,"r":52,"v":-17.1},{"c":45,"r":52,"v":-17.1},{"c":47,"r":52,"v":-17.1},{"c":49,"r":52,"v":-17.1},{"c":50,"r":52,"v":-17.1},{"c":52,"r":52,"v":-17.1},{"c":53,"r":52,"v":-17.1},{"c":54,"r":52,"v":-17.1},{"c":68,"r":52,"v":-17.1},{"c":70,"r":52,"v":-17.1},{"c":72,"r":52,"v":-17.1},{"c":73,"r":52,"v":-17.1},
{"c":2,"r":53,"v":-17.1},{"c":3,"r":53,"v":-17.1},{"c":5,"r":53,"v":-17.1},{"c":16,"r":53,"v":-17.1},{"c":19,"r":53,"v":-17.1},{"c":21,"r":53,"v":-17.1},{"c":27,"r":53,"v":-17.1},{"c":28,"r":53,"v":-17.1},{"c":29,"r":53,"v":-17.1},{"c":33,"r":53,"v":-17.1},{"c":41,"r":53,"v":-17.1},{"c":43,"r":53,"v":-17.1},{"c":45,"r":53,"v":-17.1},{"c":46,"r":53,"v":-17.1},{"c":47,"r":53,"v":-17.1},{"c":53,"r":53,"v":-17.1},{"c":55,"r":53,"v":-17.1},{"c":56,"r":53,"v":-17.1},
{"c":1,"r":54,"v":-17.1},{"c":2,"r":54,"v":-17.1},{"c":3,"r":54,"v":-17.1},{"c":6,"r":54,"v":-17.1},{"c":11,"r":54,"v":-17.1},{"c":12,"r":54,"v":-17.1},{"c":22,"r":54,"v":-17.1},{"c":26,"r":54,"v":-17.1},{"c":28,"r":54,"v":-17.1},{"c":47,"r":54,"v":-17.1},{"c":51,"r":54,"v":-17.1},{"c":62,"r":54,"v":-17.1},{"c":63,"r":54,"v":-17.1},{"c":72,"r":54,"v":-17.1},
{"c":4,"r":55,"v":-17.1},{"c":5,"r":55,"v":-17.1},{"c":11,"r":55,"v":-17.1},{"c":20,"r":55,"v":-17.1},{"c":29,"r":55,"v":-17.1},{"c":42,"r":55,"v":-17.1},{"c":52,"r":55,"v":-17.1},{"c":53,"r":55,"v":-17.1},{"c":59,"r":55,"v":-17.1},{"c":61,"r":55,"v":-17.1},{"c":62,"r":55,"v":-17.1},
{"c":6,"r":56,"v":-17.1},{"c":13,"r":56,"v":-17.1},{"c":14,"r":56,"v":-17.1},{"c":22,"r":56,"v":-17.1},{"c":29,"r":56,"v":-17.1},{"c":30,"r":56,"v":-17.1},{"c":42,"r":56,"v":-17.1},{"c":52,"r":56,"v":-17.1},{"c":53,"r":56,"v":-17.1},{"c":54,"r":56,"v":-17.1},{"c":55,"r":56,"v":-17.1},{"c":62,"r":56,"v":-17.1},{"c":69,"r":56,"v":-17.1},{"c":72,"r":56,"v":-17.1},
{"c":2,"r":57,"v":-17.1},{"c":5,"r":57,"v":-17.1},{"c":6,"r":57,"v":-17.1},{"c":9,"r":57,"v":-17.1},{"c":10,"r":57,"v":-17.1},{"c":11,"r":57,"v":-17.1},{"c":14,"r":57,"v":-17.1},{"c":21,"r":57,"v":-17.1},{"c":24,"r":57,"v":-17.1},{"c":25,"r":57,"v":-17.1},{"c":29,"r":57,"v":-17.1},{"c":30,"r":57,"v":-17.1},{"c":31,"r":57,"v":-17.1},{"c":32,"r":57,"v":-17.1},{"c":33,"r":57,"v":-17.1},{"c":37,"r":57,"v":-17.1},{"c":38,"r":57,"v":-17.1},{"c":39,"r":57,"v":-17.1},{"c":40,"r":57,"v":-17.1},{"c":44,"r":57,"v":-17.1},{"c":46,"r":57,"v":-17.1},{"c":48,"r":57,"v":-17.1},{"c":51,"r":57,"v":-17.1},{"c":53,"r":57,"v":-17.1},{"c":54,"r":57,"v":-17.1},{"c":55,"r":57,"v":-17.1},{"c":56,"r":57,"v":-17.1},{"c":62,"r":57,"v":-17.1},{"c":63,"r":57,"v":-17.1},{"c":64,"r":57,"v":-17.1},{"c":72,"r":57,"v":-17.1},
{"c":2,"r":58,"v":-17.1},{"c":3,"r":58,"v":-17.1},{"c":8,"r":58,"v":-17.1},{"c":9,"r":58,"v":-17.1},{"c":13,"r":58,"v":-17.1},{"c":33,"r":58,"v":-17.1},{"c":38,"r":58,"v":-17.1},{"c":46,"r":58,"v":-17.1},{"c":47,"r":58,"v":-17.1},{"c":56,"r":58,"v":-17.1},{"c":70,"r":58,"v":-17.1},
{"c":2,"r":59,"v":-17.1},{"c":3,"r":59,"v":-17.1},{"c":6,"r":59,"v":-17.1},{"c":8,"r":59,"v":-17.1},{"c":9,"r":59,"v":-17.1},{"c":19,"r":59,"v":-17.1},{"c":22,"r":59,"v":-17.1},{"c":23,"r":59,"v":-17.1},{"c":24,"r":59,"v":-17.1},{"c":25,"r":59,"v":-17.1},{"c":28,"r":59,"v":-17.1},{"c":29,"r":59,"v":-17.1},{"c":30,"r":59,"v":-17.1},{"c":33,"r":59,"v":-17.1},{"c":35,"r":59,"v":-17.1},{"c":40,"r":59,"v":-17.1},{"c":41,"r":59,"v":-17.1},{"c":42,"r":59,"v":-17.1},{"c":49,"r":59,"v":-17.1},{"c":50,"r":59,"v":-17.1},{"c":51,"r":59,"v":-17.1},{"c":54,"r":59,"v":-17.1},{"c":57,"r":59,"v":-17.1},{"c":58,"r":59,"v":-17.1},{"c":59,"r":59,"v":-17.1},{"c":70,"r":59,"v":-17.1}
]},"mark":{"type":"square","size":303,"filled":true,"opacity":1,"clip":true},"encoding":{"x":{"field":"c","type":"quantitative","scale":{"domain":[0.03,73.03],"nice":false,"zero":false},"axis":{"orient":"bottom","values":[7.63,25.07,42.51,59.95],"labelPadding":49,"labelBaseline":"alphabetic","labelExpr":"datum.value<10?'3ʰ16ᵐ00.65ˢ':datum.value<30?'00.70ˢ':datum.value<50?'00.75ˢ':'00.80ˢ'","title":"R.A.","titleY":138,"titleBaseline":"alphabetic"}},"y":{"field":"r","type":"quantitative","scale":{"domain":[59.55,-0.465],"nice":false,"zero":false},"axis":{"orient":"left","values":[0.14,11.78,23.42,35.06,46.7,58.34],"labelPadding":15,"labelBaseline":"middle","labelExpr":"datum.value<1?'-2°25\\'37.5\"':datum.value<12?'38.0\"':datum.value<24?'38.5\"':datum.value<36?'39.0\"':datum.value<47?'39.5\"':'40.0\"'","title":"Decl.","titleX":-206,"titleY":513,"titleAngle":-90,"titleAlign":"center","titleBaseline":"alphabetic"}},"color":{"field":"v","type":"quantitative","scale":{"scheme":"viridis","domain":[-17.1,-16.8]},"legend":null}}},
{"data":{"values":[{"c":13.01,"r":46.55}]},"mark":{"type":"point","shape":"circle","filled":true,"size":120409,"fill":"#d4232a","stroke":"black","strokeWidth":2.5,"opacity":0.4},"encoding":{"x":{"field":"c","type":"quantitative","scale":{"domain":[0.03,73.03],"nice":false,"zero":false},"axis":null},"y":{"field":"r","type":"quantitative","scale":{"domain":[59.55,-0.465],"nice":false,"zero":false},"axis":null}}},
{"data":{"values":[
{"k":0,"s":"a","c":0.03,"r":2.55},{"k":0,"s":"a","c":0.7,"r":1.86},{"k":0,"s":"a","c":1.52,"r":1.47},{"k":0,"s":"a","c":2.27,"r":1.86},{"k":0,"s":"a","c":3.45,"r":2.84},{"k":0,"s":"a","c":4.63,"r":3.83},{"k":0,"s":"a","c":5.42,"r":4.28},{"k":0,"s":"a","c":6.41,"r":3.73},{"k":0,"s":"a","c":7.39,"r":2.94},{"k":0,"s":"a","c":8.18,"r":1.76},{"k":0,"s":"a","c":9.26,"r":0.58},{"k":0,"s":"a","c":10.15,"r":0},{"k":0,"s":"a","c":10.64,"r":-0.41},
{"k":0,"s":"b","c":0.03,"r":37.59},{"k":0,"s":"b","c":0.8,"r":39.07},{"k":0,"s":"b","c":2.27,"r":40.35},{"k":0,"s":"b","c":3.45,"r":41.14},{"k":0,"s":"b","c":4.24,"r":42.91},{"k":0,"s":"b","c":4.14,"r":44.88},{"k":0,"s":"b","c":3.45,"r":47.04},{"k":0,"s":"b","c":2.47,"r":48.72},{"k":0,"s":"b","c":2.37,"r":50.59},{"k":0,"s":"b","c":2.43,"r":52.56},{"k":0,"s":"b","c":2.27,"r":54.53},{"k":0,"s":"b","c":1.72,"r":56.59},{"k":0,"s":"b","c":2.67,"r":58.56},{"k":0,"s":"b","c":3.37,"r":58.96},{"k":0,"s":"b","c":3.75,"r":59.55},
{"k":1,"s":"c","c":39.58,"r":-0.44},{"k":1,"s":"c","c":37.72,"r":0.58},{"k":1,"s":"c","c":35.74,"r":1.86},{"k":1,"s":"c","c":32.59,"r":3.34},{"k":1,"s":"c","c":29.44,"r":5.01},{"k":1,"s":"c","c":26.88,"r":6.39},{"k":1,"s":"c","c":24.91,"r":7.77},{"k":1,"s":"c","c":23.24,"r":9.54},{"k":1,"s":"c","c":22.56,"r":10.62},{"k":1,"s":"c","c":20.78,"r":13.57},{"k":1,"s":"c","c":19.01,"r":16.13},{"k":1,"s":"c","c":18.42,"r":16.92},{"k":1,"s":"c","c":17.04,"r":18.99},{"k":1,"s":"c","c":16.45,"r":19.68},{"k":1,"s":"c","c":15.37,"r":21.35},{"k":1,"s":"c","c":14.48,"r":23.42},{"k":1,"s":"c","c":13.99,"r":25.58},{"k":1,"s":"c","c":13.69,"r":27.55},{"k":1,"s":"c","c":13.53,"r":29.32},{"k":1,"s":"c","c":13.53,"r":31.29},{"k":1,"s":"c","c":13.85,"r":33.26},{"k":1,"s":"c","c":14.38,"r":35.13},{"k":1,"s":"c","c":15.07,"r":36.61},{"k":1,"s":"c","c":16.06,"r":38.97},{"k":1,"s":"c","c":16.45,"r":40.35},{"k":1,"s":"c","c":17.14,"r":42.32},{"k":1,"s":"c","c":18.02,"r":44.49},{"k":1,"s":"c","c":19.2,"r":46.65},{"k":1,"s":"c","c":20.78,"r":48.82},{"k":1,"s":"c","c":22.55,"r":49.99},{"k":1,"s":"c","c":24.91,"r":51.38},{"k":1,"s":"c","c":26.59,"r":52.75},{"k":1,"s":"c","c":28.56,"r":54.62},{"k":1,"s":"c","c":30.73,"r":56.2},{"k":1,"s":"c","c":32.49,"r":57.38},{"k":1,"s":"c","c":34.66,"r":58.76},{"k":1,"s":"c","c":37.22,"r":59.55},
{"k":1,"s":"d","c":50.1,"r":59.55},{"k":1,"s":"d","c":52.28,"r":59.15},{"k":1,"s":"d","c":54.25,"r":57.68},{"k":1,"s":"d","c":56.18,"r":56.2},{"k":1,"s":"d","c":59.07,"r":54.72},{"k":1,"s":"d","c":60.16,"r":54.03},{"k":1,"s":"d","c":61.74,"r":52.17},{"k":1,"s":"d","c":62.72,"r":50.69},{"k":1,"s":"d","c":64.19,"r":48.99},{"k":1,"s":"d","c":66.26,"r":46.85},{"k":1,"s":"d","c":67.93,"r":44.78},{"k":1,"s":"d","c":69.11,"r":43.01},{"k":1,"s":"d","c":69.61,"r":40.35},{"k":1,"s":"d","c":70.39,"r":37.4},{"k":1,"s":"d","c":70.83,"r":35.13},{"k":1,"s":"d","c":70.59,"r":33.16},{"k":1,"s":"d","c":69.81,"r":31.29},{"k":1,"s":"d","c":69.21,"r":29.42},{"k":1,"s":"d","c":69.01,"r":27.16},{"k":1,"s":"d","c":68.92,"r":25.49},{"k":1,"s":"d","c":68.62,"r":23.42},{"k":1,"s":"d","c":68.33,"r":21.55},{"k":1,"s":"d","c":68.13,"r":19.58},{"k":1,"s":"d","c":68.33,"r":17.51},{"k":1,"s":"d","c":68.92,"r":15.55},{"k":1,"s":"d","c":69.51,"r":13.77},{"k":1,"s":"d","c":69.91,"r":11.7},{"k":1,"s":"d","c":70.2,"r":9.64},{"k":1,"s":"d","c":70.3,"r":7.47},{"k":1,"s":"d","c":70.2,"r":5.8},{"k":1,"s":"d","c":70.01,"r":3.73},{"k":1,"s":"d","c":69.32,"r":1.96},{"k":1,"s":"d","c":68.43,"r":0.68},{"k":1,"s":"d","c":67.64,"r":-0.41},
{"k":2,"s":"e","c":23.93,"r":19.68},{"k":2,"s":"e","c":25.31,"r":17.71},{"k":2,"s":"e","c":26.88,"r":16.23},{"k":2,"s":"e","c":29.05,"r":14.56},{"k":2,"s":"e","c":30.82,"r":13.38},{"k":2,"s":"e","c":32.78,"r":12.2},{"k":2,"s":"e","c":34.66,"r":11.31},{"k":2,"s":"e","c":36.63,"r":10.72},{"k":2,"s":"e","c":38.6,"r":10.33},{"k":2,"s":"e","c":40.57,"r":9.89},{"k":2,"s":"e","c":42.54,"r":9.44},{"k":2,"s":"e","c":44.5,"r":9.44},{"k":2,"s":"e","c":46.47,"r":9.99},{"k":2,"s":"e","c":48.44,"r":10.42},{"k":2,"s":"e","c":52.28,"r":10.82},{"k":2,"s":"e","c":54.35,"r":11.56},{"k":2,"s":"e","c":56.27,"r":13.38},{"k":2,"s":"e","c":58.19,"r":17.51},{"k":2,"s":"e","c":59.27,"r":19.68},{"k":2,"s":"e","c":60.27,"r":21.55},{"k":2,"s":"e","c":60.49,"r":23.51},{"k":2,"s":"e","c":60.58,"r":25.49},{"k":2,"s":"e","c":60.74,"r":27.45},{"k":2,"s":"e","c":60.83,"r":29.32},{"k":2,"s":"e","c":60.79,"r":31.29},{"k":2,"s":"e","c":60.49,"r":33.26},{"k":2,"s":"e","c":60.06,"r":35.13},{"k":2,"s":"e","c":59.29,"r":37.1},{"k":2,"s":"e","c":58.19,"r":39.17},{"k":2,"s":"e","c":57.4,"r":40.35},{"k":2,"s":"e","c":56.52,"r":41.53},{"k":2,"s":"e","c":55.43,"r":42.91},{"k":2,"s":"e","c":54.25,"r":43.99},{"k":2,"s":"e","c":52.28,"r":45.17},{"k":2,"s":"e","c":50.41,"r":46.16},{"k":2,"s":"e","c":48.34,"r":47.73},{"k":2,"s":"e","c":46.47,"r":48.52},{"k":2,"s":"e","c":44.5,"r":48.91},{"k":2,"s":"e","c":42.54,"r":48.78},{"k":2,"s":"e","c":40.57,"r":48.38},{"k":2,"s":"e","c":38.6,"r":47.83},{"k":2,"s":"e","c":36.63,"r":47.34},{"k":2,"s":"e","c":34.66,"r":46.95},{"k":2,"s":"e","c":32.69,"r":46.41},{"k":2,"s":"e","c":30.72,"r":45.51},{"k":2,"s":"e","c":28.95,"r":44.72},{"k":2,"s":"e","c":26.79,"r":43.21},{"k":2,"s":"e","c":25.5,"r":41.73},{"k":2,"s":"e","c":24.52,"r":40.35},{"k":2,"s":"e","c":23.73,"r":39.36},{"k":2,"s":"e","c":22.65,"r":37.2},{"k":2,"s":"e","c":21.76,"r":34.84},{"k":2,"s":"e","c":21.18,"r":33.26},{"k":2,"s":"e","c":20.72,"r":31.29},{"k":2,"s":"e","c":20.68,"r":29.32},{"k":2,"s":"e","c":21.08,"r":27.16},{"k":2,"s":"e","c":21.47,"r":25.49},{"k":2,"s":"e","c":21.96,"r":23.52},{"k":2,"s":"e","c":22.75,"r":21.45},{"k":2,"s":"e","c":23.93,"r":19.68},
{"k":3,"s":"f","c":40.57,"r":15.9},{"k":3,"s":"f","c":42.54,"r":15.9},{"k":3,"s":"f","c":44.5,"r":16.17},{"k":3,"s":"f","c":46.47,"r":16.88},{"k":3,"s":"f","c":48.44,"r":18},{"k":3,"s":"f","c":50.21,"r":19.28},{"k":3,"s":"f","c":52.28,"r":21.45},{"k":3,"s":"f","c":53.36,"r":23.42},{"k":3,"s":"f","c":54.09,"r":25.39},{"k":3,"s":"f","c":54.53,"r":27.45},{"k":3,"s":"f","c":54.71,"r":29.32},{"k":3,"s":"f","c":54.65,"r":31.29},{"k":3,"s":"f","c":54.21,"r":33.16},{"k":3,"s":"f","c":53.17,"r":35.23},{"k":3,"s":"f","c":52.18,"r":36.91},{"k":3,"s":"f","c":50.21,"r":38.68},{"k":3,"s":"f","c":48.93,"r":39.56},{"k":3,"s":"f","c":46.47,"r":41.14},{"k":3,"s":"f","c":44.5,"r":42.12},{"k":3,"s":"f","c":42.54,"r":42.38},{"k":3,"s":"f","c":40.57,"r":42.12},{"k":3,"s":"f","c":38.6,"r":41.69},{"k":3,"s":"f","c":36.63,"r":41.2},{"k":3,"s":"f","c":34.56,"r":40.45},{"k":3,"s":"f","c":32.49,"r":39.17},{"k":3,"s":"f","c":30.62,"r":37.2},{"k":3,"s":"f","c":28.75,"r":35.23},{"k":3,"s":"f","c":27.87,"r":33.26},{"k":3,"s":"f","c":27.18,"r":31.29},{"k":3,"s":"f","c":26.88,"r":29.32},{"k":3,"s":"f","c":26.88,"r":27.45},{"k":3,"s":"f","c":27.18,"r":25.49},{"k":3,"s":"f","c":28.17,"r":23.42},{"k":3,"s":"f","c":29.54,"r":21.55},{"k":3,"s":"f","c":31.7,"r":19.68},{"k":3,"s":"f","c":32.59,"r":18.79},{"k":3,"s":"f","c":34.56,"r":17.41},{"k":3,"s":"f","c":36.63,"r":16.53},{"k":3,"s":"f","c":38.6,"r":16.09},{"k":3,"s":"f","c":40.57,"r":15.9},
{"k":4,"s":"g","c":40.57,"r":21.21},{"k":4,"s":"g","c":42.54,"r":21.55},{"k":4,"s":"g","c":44.5,"r":22.59},{"k":4,"s":"g","c":46.47,"r":24.17},{"k":4,"s":"g","c":47.55,"r":25.58},{"k":4,"s":"g","c":48.1,"r":27.55},{"k":4,"s":"g","c":48.18,"r":29.32},{"k":4,"s":"g","c":47.65,"r":31.3},{"k":4,"s":"g","c":46.47,"r":33.26},{"k":4,"s":"g","c":44.5,"r":34.68},{"k":4,"s":"g","c":42.54,"r":35.27},{"k":4,"s":"g","c":40.57,"r":35.27},{"k":4,"s":"g","c":38.6,"r":34.8},{"k":4,"s":"g","c":36.53,"r":33.66},{"k":4,"s":"g","c":34.56,"r":31.49},{"k":4,"s":"g","c":33.68,"r":29.32},{"k":4,"s":"g","c":33.68,"r":27.45},{"k":4,"s":"g","c":34.56,"r":25.39},{"k":4,"s":"g","c":36.53,"r":22.93},{"k":4,"s":"g","c":38.6,"r":21.65},{"k":4,"s":"g","c":40.57,"r":21.21}
]},"mark":{"type":"line","strokeWidth":4.5,"clip":true},"encoding":{"x":{"field":"c","type":"quantitative","scale":{"domain":[0.03,73.03],"nice":false,"zero":false},"axis":null},"y":{"field":"r","type":"quantitative","scale":{"domain":[59.55,-0.465],"nice":false,"zero":false},"axis":null},"stroke":{"field":"k","type":"nominal","scale":{"domain":[0,1,2,3,4],"range":["#000000","#4f1169","#b5365a","#fb900a","#fbfda0"]},"legend":null},"detail":{"field":"s"},"order":{"value":null}}},
{"data":{"values":[{"c":-0.03,"r":-11.6,"t":"ging SFH."},{"c":-15.75,"r":17.41,"t":"rs"},{"c":-17.4,"r":23.58,"t":"e"},{"c":-17.4,"r":29.68,"t":"n"}]},"mark":{"type":"text","font":"Liberation Sans","fontSize":86,"align":"right","baseline":"alphabetic","color":"black"},"encoding":{"x":{"field":"c","type":"quantitative","scale":{"domain":[0.03,73.03],"nice":false,"zero":false},"axis":{"orient":"top","values":[7.63,25.07,42.51,59.95],"labels":false,"title":null}},"y":{"field":"r","type":"quantitative","scale":{"domain":[59.55,-0.465],"nice":false,"zero":false},"axis":{"orient":"right","values":[0.14,11.78,23.42,35.06,46.7,58.34],"labels":false,"title":null}},"text":{"field":"t"}}}
]}
